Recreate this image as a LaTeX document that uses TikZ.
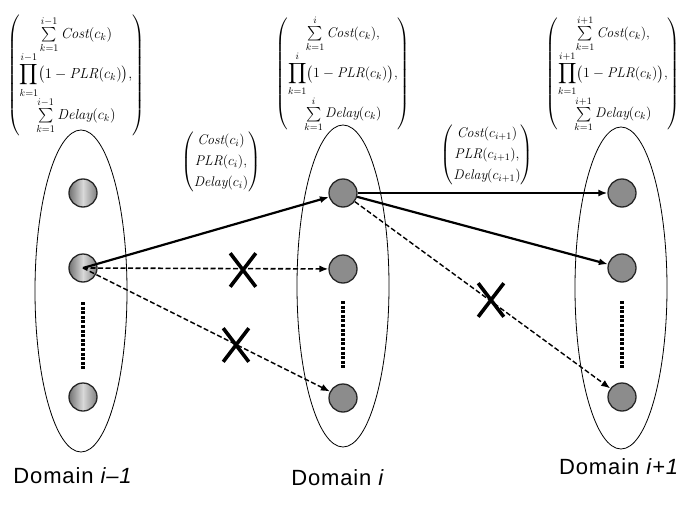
\RequirePackage{fix-cm}
\documentclass[tikz,border=0pt]{standalone}
\usepackage{amsmath}
\usepackage{fontspec}
\newfontfamily\domfont[LetterSpace=4]{Liberation Sans}
\usetikzlibrary{shapes.geometric,shapes.misc,arrows.meta}
\begin{document}
\begin{tikzpicture}[x=1pt,y=-1pt,
  domainell/.style={draw,ellipse,line width=0.8pt,minimum width=92pt,minimum height=322pt,inner sep=0pt},
  hostL/.style={circle,draw=black!85,line width=1.3pt,minimum size=28pt,inner sep=0pt,
    left color=black!55,right color=black!50,middle color=black!15},
  hostR/.style={circle,draw=black!85,line width=1.3pt,minimum size=28pt,inner sep=0pt,fill=black!45},
  okarrow/.style={line width=2.2pt,-{Latex[length=9pt,width=7pt]}},
  noarrow/.style={line width=1.6pt,dash pattern=on 5pt off 2.5pt,-{Latex[length=9pt,width=7pt]}},
  crossmark/.style={cross out,draw=black,line width=3.6pt,minimum width=22pt,minimum height=30pt,inner sep=0pt},
  dotline/.style={line width=3.6pt,dash pattern=on 3pt off 1.6pt},
  vecbox/.style={inner sep=0pt,font=\fontsize{14}{17}\selectfont},
  bigvec/.style={inner sep=0pt,font=\fontsize{14.5}{17}\selectfont},
  domlab/.style={inner sep=0pt,font=\domfont\fontsize{22}{26}\selectfont}
]
\useasboundingbox (0,0) rectangle (683,506);
% domains
\node[domainell] (D1) at (81,291) {};
\node[domainell] (D2) at (343,286) {};
\node[domainell] (D3) at (621,288) {};
% hosts
\node[hostL] (L1) at (83,193) {};
\node[hostL] (L2) at (83,268) {};
\node[hostL] (L3) at (83,397) {};
\node[hostR] (M1) at (343,193) {};
\node[hostR] (M2) at (343,269) {};
\node[hostR] (M3) at (343,398) {};
\node[hostR] (R1) at (622,193) {};
\node[hostR] (R2) at (622,268) {};
\node[hostR] (R3) at (622,397) {};
% dotted vertical lines
\draw[dotline] (83,302) -- (83,370);
\draw[dotline] (343,301) -- (343,369);
\draw[dotline] (622,301) -- (622,369);
% connectors
\draw[okarrow] (L2.center) -- (M1);
\draw[noarrow] (L2.center) -- (M2);
\draw[noarrow,line width=1.4pt] (L2.center) -- (M3);
\draw[okarrow] (M1) -- (R1);
\draw[okarrow] (M1) -- (R2);
\draw[noarrow,line width=1.4pt] (M1) -- (R3);
% crosses
\node[crossmark] (X1) at (243,270) {};
\node[crossmark] (X2) at (236,345) {};
\node[crossmark] (X3) at (491,300) {};
% vectors
\node[bigvec] (V1) at (76,75) {$\begin{pmatrix}
 \sum\limits_{k=1}^{i-1}\mathit{Cost}(c_k)\\[1pt]
 \displaystyle\prod_{k=1}^{i-1}\bigl(1-\mathit{PLR}(c_k)\bigr),\\[1pt]
 \sum\limits_{k=1}^{i-1}\mathit{Delay}(c_k)
\end{pmatrix}$};
\node[vecbox] (V2) at (343,74) {$\begin{pmatrix}
 \sum\limits_{k=1}^{i}\mathit{Cost}(c_k),\\[2pt]
 \displaystyle\prod_{k=1}^{i}\bigl(1-\mathit{PLR}(c_k)\bigr),\\[2pt]
 \sum\limits_{k=1}^{i}\mathit{Delay}(c_k)
\end{pmatrix}$};
\node[vecbox] (V3) at (613,74) {$\begin{pmatrix}
 \sum\limits_{k=1}^{i+1}\mathit{Cost}(c_k),\\[2pt]
 \displaystyle\prod_{k=1}^{i+1}\bigl(1-\mathit{PLR}(c_k)\bigr),\\[2pt]
 \sum\limits_{k=1}^{i+1}\mathit{Delay}(c_k)
\end{pmatrix}$};
\node[vecbox] (C1) at (221,162) {$\begin{pmatrix}
 \mathit{Cost}(c_i)\\[4pt] \mathit{PLR}(c_i),\\[4pt] \mathit{Delay}(c_i)
\end{pmatrix}$};
\node[vecbox] (C2) at (487,155) {$\begin{pmatrix}
 \mathit{Cost}(c_{i+1})\\[4pt] \mathit{PLR}(c_{i+1}),\\[4pt] \mathit{Delay}(c_{i+1})
\end{pmatrix}$};
% domain labels
\node[domlab] (T1) at (73,476) {Domain \textit{i–1}};
\node[domlab] (T2) at (338,478) {Domain \textit{i}};
\node[domlab] (T3) at (619,467) {Domain \textit{i+1}};
\end{tikzpicture}
\end{document}
